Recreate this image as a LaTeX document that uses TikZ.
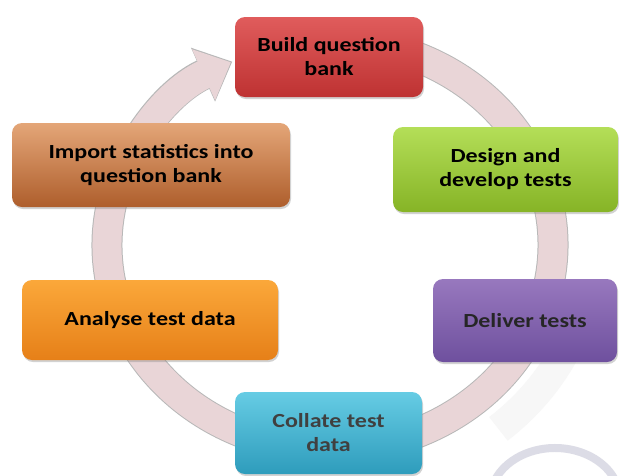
\documentclass[tikz,border=0pt]{standalone}
\usepackage{fontspec}
\setmainfont[FakeStretch=1.2]{Carlito}
\usetikzlibrary{arrows.meta,shadows}
\definecolor{ringc}{HTML}{E9D5D7}
\definecolor{ringo}{HTML}{B8B8B8}
\definecolor{swoo}{HTML}{DCDCE6}
\definecolor{redT}{HTML}{E05C5C}\definecolor{redB}{HTML}{BE3232}
\definecolor{grnT}{HTML}{B4DE58}\definecolor{grnB}{HTML}{86B426}
\definecolor{purT}{HTML}{9878BE}\definecolor{purB}{HTML}{6E509E}
\definecolor{cyaT}{HTML}{66CCE4}\definecolor{cyaB}{HTML}{2E9CBC}
\definecolor{ornT}{HTML}{FBA83A}\definecolor{ornB}{HTML}{E68018}
\definecolor{brnT}{HTML}{E4A678}\definecolor{brnB}{HTML}{AE5E2C}
\begin{document}
\begin{tikzpicture}[x=1pt,y=-1pt,
  box/.style={rectangle, rounded corners=10pt, inner sep=0pt, align=center,
    font=\fontsize{20}{24}\selectfont\bfseries, text=black,
    drop shadow={shadow xshift=1pt, shadow yshift=-2pt, opacity=0.35}},
  ringline/.style={draw=ringc, line width=29pt}
]
\useasboundingbox[fill=white] (0,0) rectangle (619,475);
% faint background swoosh
\draw[black!3, line width=30pt] (330,245) ++(15:262 and 240) arc[start angle=15, end angle=50, x radius=262, y radius=240];
\draw[swoo, line width=8pt] (555,500) ++(-160:65 and 52) arc[start angle=-160, end angle=-15, x radius=65, y radius=52];
% ring arrow (outline, then fill)
\draw[draw=ringo, line width=31pt, -{Triangle[width=57pt,length=32pt]}]
  (330,245) ++(-80:223 and 204) arc[start angle=-80, end angle=244, x radius=223, y radius=204];
\draw[ringline, -{Triangle[width=54pt,length=30pt]}]
  (330,245) ++(-80:223 and 204) arc[start angle=-80, end angle=243.6, x radius=223, y radius=204];
% boxes
\node[box, top color=redT, bottom color=redB, minimum width=188pt, minimum height=80pt] (build) at (329,57) {Build question\\bank};
\node[box, top color=grnT, bottom color=grnB, minimum width=225pt, minimum height=85pt] (design) at (505.5,169.5) {Design and\\develop tests};
\node[box, top color=purT, bottom color=purB, minimum width=184pt, minimum height=83pt, text=black!85] (deliver) at (525,320.5) {Deliver tests};
\node[box, top color=cyaT, bottom color=cyaB, minimum width=187pt, minimum height=82pt, text=black!75] (collate) at (328.5,433) {Collate test\\data};
\node[box, top color=ornT, bottom color=ornB, minimum width=256pt, minimum height=80pt] (analyse) at (150,320) {Analyse test data};
\node[box, top color=brnT, bottom color=brnB, minimum width=278pt, minimum height=84pt] (import) at (151,165) {Import statistics into\\question bank};
\end{tikzpicture}
\end{document}
